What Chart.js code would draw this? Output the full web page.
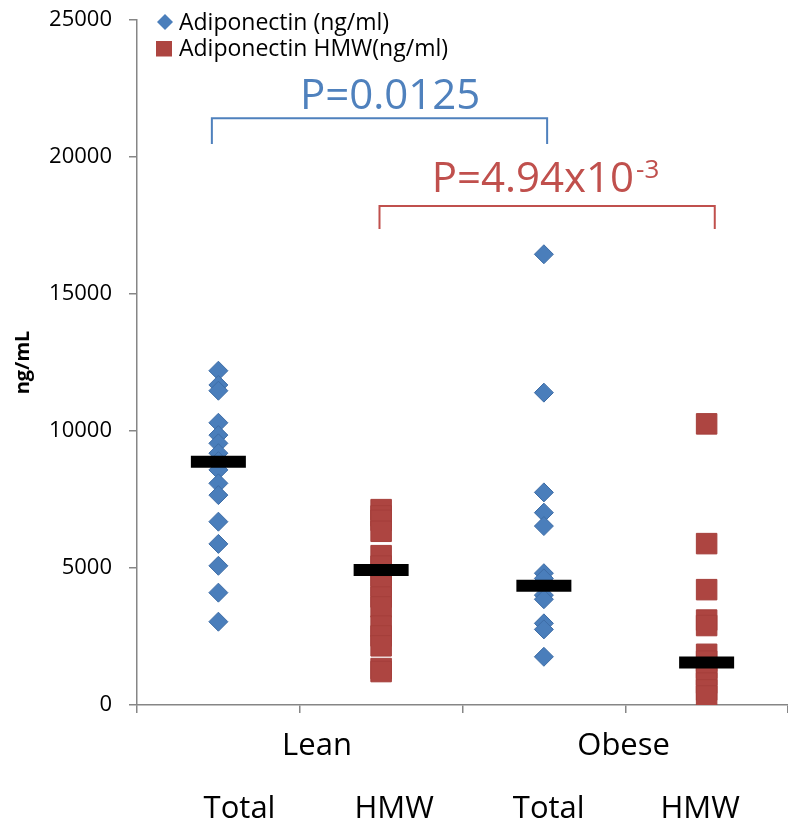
<!DOCTYPE html>
<html>
<head>
<meta charset="utf-8">
<script src="https://cdn.jsdelivr.net/npm/chart.js@4.4.0/dist/chart.umd.min.js"></script>
<style>
  html, body { margin: 0; padding: 0; background: #fff; }
  #wrap { width: 788px; height: 823px; }
</style>
</head>
<body>
<div id="wrap"><canvas id="chart" width="788" height="823"></canvas></div>
<script>
// x = 1 Lean Total, 2 Lean HMW, 3 Obese Total, 4 Obese HMW
const groupLabels = ['Lean', 'Obese'];
const subLabels = ['Total', 'HMW', 'Total', 'HMW'];
const seriesNames = ['Adiponectin (ng/ml)', 'Adiponectin HMW(ng/ml)'];

const leanTotal = [12200, 11680, 11470, 10300, 9850, 9550, 9190, 8900, 8580, 8090, 7660, 6690, 5880, 5080, 4100, 3040];
const leanHMW = [7130, 6900, 6740, 6340, 5450, 5070, 4710, 4340, 3940, 3580, 2880, 2520, 2160, 1330, 1220];
const obeseTotal = [16450, 11400, 7760, 7020, 6530, 4810, 4620, 4010, 3860, 2980, 2760, 1760];
const obeseHMW = [10260, 5890, 4210, 3100, 2900, 1850, 1600, 1350, 1100, 800, 550, 330];
const medians = [8880, 4930, 4350, 1550];

const pTexts = [
    { main: 'P=0.0125', sup: '' },
    { main: 'P=4.94x10', sup: '-3' }
];

const BLUE = '#4A7EBB';
const RED = '#AD4541';
const FONT = "'Open Sans', sans-serif";

const pts = (xv, arr) => arr.map(v => ({ x: xv, y: v }));

// brackets and p-values, placed in axis units
const brackets = [
    { from: 0.96, to: 3.02, level: 21410, end: 20470, textX: 2.055, textY: 21750, color: '#4F81BD' },
    { from: 1.99, to: 4.05, level: 18210, end: 17370, textX: 3.01, textY: 18730, color: '#C0504D' }
];
const groupLabelAt = [1.606, 3.49];
const subLabelAt = [1.13, 2.08, 3.03, 3.96];

const decorations = {
    id: 'decorations',
    afterDatasetsDraw(chart) {
        const { ctx, scales: { x, y } } = chart;
        ctx.save();

        // brackets + p-values
        brackets.forEach((b, i) => {
            const x1 = x.getPixelForValue(b.from), x2 = x.getPixelForValue(b.to);
            const yl = y.getPixelForValue(b.level), ye = y.getPixelForValue(b.end);
            ctx.strokeStyle = b.color;
            ctx.lineWidth = 2;
            ctx.beginPath();
            ctx.moveTo(x1, ye); ctx.lineTo(x1, yl); ctx.lineTo(x2, yl); ctx.lineTo(x2, ye);
            ctx.stroke();

            const t = pTexts[i];
            ctx.fillStyle = b.color;
            ctx.textBaseline = 'alphabetic';
            ctx.textAlign = 'left';
            ctx.font = '42px ' + FONT;
            const wMain = ctx.measureText(t.main).width;
            ctx.font = '26px ' + FONT;
            const wSup = t.sup ? ctx.measureText(t.sup).width + 2 : 0;
            const sx = x.getPixelForValue(b.textX) - (wMain + wSup) / 2;
            const by = y.getPixelForValue(b.textY);
            ctx.font = '42px ' + FONT;
            ctx.fillText(t.main, sx, by);
            if (t.sup) {
                ctx.font = '26px ' + FONT;
                ctx.fillText(t.sup, sx + wMain + 2, by - 14);
            }
        });

        // legend (series datasets only)
        const legendRows = chart.data.datasets.filter(d => d.label);
        legendRows.forEach((d, i) => {
            const cy = 22 + i * 26.5;
            ctx.fillStyle = d.backgroundColor;
            ctx.beginPath();
            if (d.pointStyle === 'rectRot') {
                ctx.moveTo(157, cy); ctx.lineTo(165, cy - 8); ctx.lineTo(173, cy); ctx.lineTo(165, cy + 8);
                ctx.closePath();
                ctx.fill();
            } else {
                ctx.fillRect(156, cy - 7.5, 16, 15.5);
            }
            ctx.fillStyle = '#000';
            ctx.font = '23px ' + FONT;
            ctx.textAlign = 'left';
            ctx.textBaseline = 'alphabetic';
            ctx.fillText(d.label, 179, cy + 7.5);
        });

        // category labels under the x axis
        ctx.fillStyle = '#000';
        ctx.font = '31px ' + FONT;
        ctx.textAlign = 'center';
        ctx.textBaseline = 'alphabetic';
        groupLabels.forEach((l, i) => ctx.fillText(l, x.getPixelForValue(groupLabelAt[i]), 755));
        subLabels.forEach((l, i) => ctx.fillText(l, x.getPixelForValue(subLabelAt[i]), 818));
        ctx.restore();
    }
};

const noPad = s => { s.paddingTop = 0; s.paddingBottom = 0; s.paddingLeft = 0; s.paddingRight = 0; };

new Chart(document.getElementById('chart'), {
    type: 'scatter',
    data: {
        datasets: [
            {
                data: medians.map((v, i) => ({ x: i + 1, y: v })),
                pointStyle: 'line',
                pointRadius: 27.5,
                borderColor: '#000',
                pointBorderWidth: 12,
                order: 0
            },
            {
                label: seriesNames[0],
                data: pts(1, leanTotal).concat(pts(3, obeseTotal)),
                pointStyle: 'rectRot',
                pointRadius: 9.5,
                backgroundColor: BLUE,
                borderColor: '#3E6DA6',
                pointBorderWidth: 1,
                order: 1
            },
            {
                label: seriesNames[1],
                data: pts(2, leanHMW).concat(pts(4, obeseHMW)),
                pointStyle: 'rect',
                pointRadius: 14.5,
                backgroundColor: RED,
                borderColor: '#A53F3B',
                pointBorderWidth: 1,
                order: 2
            }
        ]
    },
    options: {
        responsive: false,
        animation: false,
        events: [],
        layout: { autoPadding: false, padding: { top: 20, right: 0, left: 0, bottom: 0 } },
        plugins: {
            legend: { display: false },
            tooltip: { enabled: false }
        },
        scales: {
            x: {
                type: 'linear',
                min: 0.5,
                max: 4.5,
                afterBuildTicks: s => { s.ticks = [0.5, 1.5, 2.5, 3.5, 4.5].map(v => ({ value: v })); },
                afterFit: s => { s.height = 118; noPad(s); },
                ticks: { display: false },
                grid: { drawOnChartArea: false, drawTicks: true, tickLength: 8, color: '#868686', lineWidth: 1.5 },
                border: { color: '#868686', width: 1.5 }
            },
            y: {
                min: 0,
                max: 25000,
                afterFit: s => { s.width = 137; noPad(s); },
                ticks: {
                    stepSize: 5000,
                    padding: 17,
                    color: '#000',
                    font: { family: FONT, size: 22 },
                    callback: v => String(v)
                },
                grid: { drawOnChartArea: false, drawTicks: true, tickLength: 8, color: '#868686', lineWidth: 1.5 },
                border: { color: '#868686', width: 1.5 },
                title: {
                    display: true,
                    text: 'ng/mL',
                    color: '#000',
                    padding: { top: 11, bottom: 0 },
                    font: { family: FONT, size: 20, weight: 'bold' }
                }
            }
        }
    },
    plugins: [decorations]
});
</script>
</body>
</html>
